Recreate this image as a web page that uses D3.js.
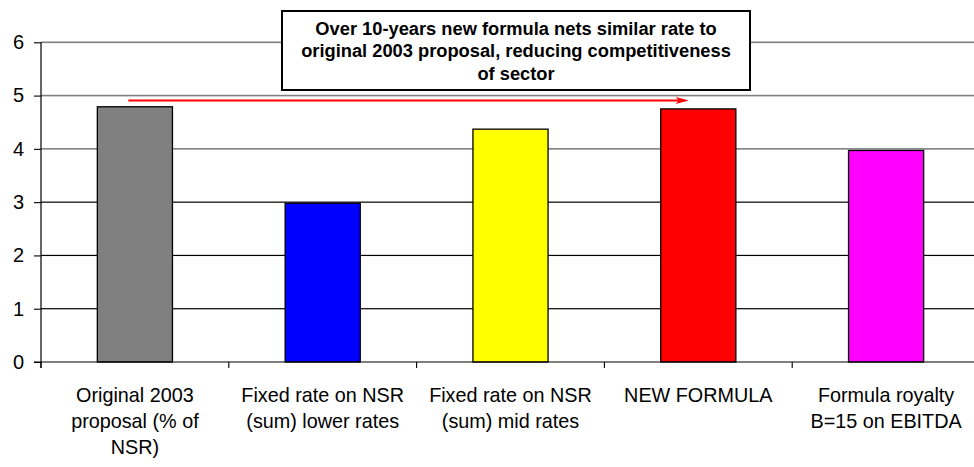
<!DOCTYPE html>
<html>
<head>
<meta charset="utf-8">
<script src="https://cdn.jsdelivr.net/npm/d3@7"></script>
<style>
  body { margin: 0; background: #fff; }
  svg { display: block; font-family: "Liberation Sans", Arial, sans-serif; }
</style>
</head>
<body>
<div id="chart"></div>
<script>
// data
var categories = [
    ['Original 2003', 'proposal (% of', 'NSR)'],
    ['Fixed rate on NSR', '(sum) lower rates'],
    ['Fixed rate on NSR', '(sum) mid rates'],
    ['NEW FORMULA'],
    ['Formula royalty', 'B=15 on EBITDA']
];
var values = [4.79, 2.98, 4.37, 4.75, 3.97];
var barColors = ['#808080', '#0000FF', '#FFFF00', '#FF0000', '#FF00FF'];
var yTicks = [0, 1, 2, 3, 4, 5, 6];
var noteLines = [
    'Over 10-years new formula nets similar rate to',
    'original 2003 proposal, reducing competitiveness',
    'of sector'
];

var width = 974,
    height = 467;

var svg = d3.select('#chart')
    .append('svg')
    .attr('width', width)
    .attr('height', height);

var idx = d3.range(values.length);

var x = d3.scaleBand()
    .domain(idx)
    .range([41, 980])
    .paddingInner(0.6)
    .paddingOuter(0.3);

var xCat = d3.scaleBand()
    .domain(idx)
    .range([41, 980]);

var y = d3.scaleLinear()
    .domain([0, 6])
    .range([362, 42.3]);

// gridlines, drawn as thin filled rects
svg.append('g')
    .attr('class', 'gridlines')
    .selectAll('rect')
    .data(yTicks.slice(1))
    .enter()
    .append('rect')
    .attr('x', 41)
    .attr('width', width - 41)
    .attr('y', function (d) { return y(d) - (d >= 4 ? 0.8 : 0.6); })
    .attr('height', function (d) { return d >= 4 ? 1.6 : 1.2; })
    .attr('fill', function (d) { return d >= 4 ? '#808080' : '#000'; });

// bars
svg.selectAll('rect.bar')
    .data(values)
    .enter()
    .append('rect')
    .attr('class', 'bar')
    .attr('x', function (d, i) { return x(i); })
    .attr('width', x.bandwidth())
    .attr('y', function (d) { return y(d); })
    .attr('height', function (d) { return y(0) - y(d); })
    .attr('fill', function (d, i) { return barColors[i]; })
    .attr('stroke', '#000')
    .attr('stroke-width', 1.3);

// y axis
var yAxis = svg.append('g')
    .attr('transform', 'translate(41,0)')
    .call(d3.axisLeft(y).tickValues(yTicks).tickSize(7).tickPadding(10).tickFormat(d3.format('d')));
yAxis.select('.domain').attr('stroke', '#000').attr('stroke-width', 1.2).attr('d', 'M0,' + y(6) + 'V' + (y(0) + 6));
yAxis.selectAll('.tick line').attr('stroke', '#000').attr('stroke-width', 1.1);
yAxis.selectAll('.tick text')
    .attr('font-size', 20)
    .attr('font-family', '"Liberation Sans", Arial, sans-serif')
    .attr('fill', '#000');

// x axis line and category ticks
svg.append('line')
    .attr('x1', 34)
    .attr('x2', width)
    .attr('y1', y(0))
    .attr('y2', y(0))
    .attr('stroke', '#000')
    .attr('stroke-width', 1.2);

svg.selectAll('line.xtick')
    .data(idx)
    .enter()
    .append('line')
    .attr('class', 'xtick')
    .attr('x1', function (d) { return xCat(d); })
    .attr('x2', function (d) { return xCat(d); })
    .attr('y1', y(0))
    .attr('y2', y(0) + 6)
    .attr('stroke', '#000')
    .attr('stroke-width', 1.1);

// category labels
var labels = svg.selectAll('text.xlabel')
    .data(categories)
    .enter()
    .append('text')
    .attr('class', 'xlabel')
    .attr('text-anchor', 'middle')
    .attr('font-size', 19.8)
    .attr('fill', '#000');
labels.selectAll('tspan')
    .data(function (d, i) {
        return d.map(function (t) { return { t: t, i: i }; });
    })
    .enter()
    .append('tspan')
    .attr('x', function (d) { return xCat(d.i) + xCat.bandwidth() / 2; })
    .attr('y', function (d, j) { return 402 + j * 26; })
    .text(function (d) { return d.t; });

// red arrow from first bar to the new formula bar
svg.append('line')
    .attr('x1', x(0) + 31)
    .attr('x2', x(3) + 20)
    .attr('y1', 100.5)
    .attr('y2', 100.5)
    .attr('stroke', '#FF0000')
    .attr('stroke-width', 2);

svg.append('path')
    .attr('d', d3.line()([[x(3) + 15, 97], [x(3) + 28, 100.5], [x(3) + 15, 104], [x(3) + 18, 100.5]]) + 'Z')
    .attr('fill', '#FF0000');

// annotation box
svg.append('rect')
    .attr('x', 282)
    .attr('y', 11)
    .attr('width', 468)
    .attr('height', 79)
    .attr('fill', '#fff')
    .attr('stroke', '#000')
    .attr('stroke-width', 2);

svg.append('text')
    .attr('text-anchor', 'middle')
    .attr('font-size', 18.3)
    .attr('font-weight', 'bold')
    .attr('fill', '#000')
    .selectAll('tspan')
    .data(noteLines)
    .enter()
    .append('tspan')
    .attr('x', 516)
    .attr('y', function (d, j) { return 34.5 + j * 22.5; })
    .text(function (d) { return d; });
</script>
</body>
</html>
